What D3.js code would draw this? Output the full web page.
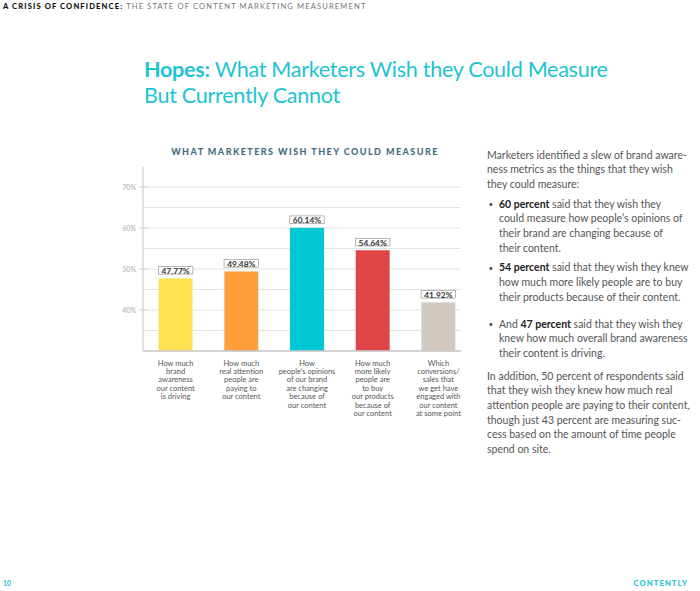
<!DOCTYPE html>
<html>
<head>
<meta charset="utf-8">
<script src="https://cdn.jsdelivr.net/npm/d3@7"></script>
<style>
  html, body { margin: 0; padding: 0; background: #fff; }
  svg { display: block; }
</style>
</head>
<body>
<div id="chart"></div>
<script>
// ---- data ----
const categories = [
  ["How much", "brand", "awareness", "our content", "is driving"],
  ["How much", "real attention", "people are", "paying to", "our content"],
  ["How", "people\u2019s  opinions", "of our brand", "are changing", "because of", "our content"],
  ["How much", "more likely", "people are", "to buy", "our products", "because of", "our content"],
  ["Which", "conversions/", "sales that", "we get have", "engaged with", "our content", "at some point"]
];
const values = [47.77, 49.48, 60.14, 54.64, 41.92];
const valueLabels = ["47.77%", "49.48%", "60.14%", "54.64%", "41.92%"];
const barColors = ["#ffe04e", "#ff9e3b", "#00c6d6", "#e04545", "#d1c8bf"];
const gridValues = [35, 40, 45, 50, 55, 60, 65, 70];
const tickValues = [40, 50, 60, 70];
const tickLabels = ["40%", "50%", "60%", "70%"];

const W = 700, H = 591;
const svg = d3.select("#chart").append("svg").attr("width", W).attr("height", H);
svg.append("rect").attr("width", W).attr("height", H).attr("fill", "#fff");

const cyan = "#1ec3d3";
const sans = "Lato, 'Open Sans', sans-serif";

// ---- header ----
const hdr = svg.append("text").attr("x", 3).attr("y", 9)
  .attr("font-family", sans).attr("font-size", 7.6).attr("letter-spacing", 1.12);
hdr.append("tspan").attr("font-weight", 900).attr("fill", "#111").text("A CRISIS OF CONFIDENCE:");
hdr.append("tspan").attr("fill", "#777").text(" THE STATE OF CONTENT MARKETING MEASUREMENT");

// ---- main title ----
const t1 = svg.append("text").attr("x", 144).attr("y", 77)
  .attr("font-family", sans).attr("font-size", 21.6).attr("letter-spacing", -0.3).attr("fill", cyan);
t1.append("tspan").attr("font-weight", 700).text("Hopes:");
t1.append("tspan").text(" What Marketers Wish they Could Measure");
svg.append("text").attr("x", 144).attr("y", 102.5)
  .attr("font-family", sans).attr("font-size", 21.6).attr("letter-spacing", -0.3).attr("fill", cyan)
  .text("But Currently Cannot");

// ---- chart title ----
svg.append("text").attr("x", 305).attr("y", 155).attr("text-anchor", "middle")
  .attr("font-family", sans).attr("font-weight", 900).attr("font-size", 9)
  .attr("letter-spacing", 1.45).attr("fill", "#3f6d82")
  .text("WHAT MARKETERS WISH THEY COULD MEASURE");

// ---- scales ----
const y = d3.scaleLinear().domain([30, 75]).range([351, 166.5]);
const x = d3.scaleBand().domain(d3.range(values.length))
  .range([125.5, 488.5]).paddingInner(0.475).paddingOuter(0.5);
const axisX = 143, gridRight = 461;

const g = svg.append("g");

// gridlines
g.selectAll("line.grid").data(gridValues).join("line").attr("class", "grid")
  .attr("x1", axisX).attr("x2", gridRight)
  .attr("y1", d => y(d)).attr("y2", d => y(d))
  .attr("stroke", "#e2e2e2").attr("stroke-width", 1);

// y axis line
g.append("line").attr("x1", axisX).attr("x2", axisX).attr("y1", y(75)).attr("y2", y(30))
  .attr("stroke", "#d8d8d8").attr("stroke-width", 1.5);

// tick marks + labels
g.selectAll("line.tick").data(tickValues).join("line").attr("class", "tick")
  .attr("x1", axisX - 4).attr("x2", axisX + 4)
  .attr("y1", d => y(d)).attr("y2", d => y(d))
  .attr("stroke", "#cfcfcf").attr("stroke-width", 1);
g.selectAll("text.tick").data(tickValues).join("text").attr("class", "tick")
  .attr("x", axisX - 7).attr("y", d => y(d) + 2.5).attr("text-anchor", "end")
  .attr("font-family", sans).attr("font-size", 7).attr("font-weight", 700).attr("fill", "#bbb")
  .text((d, i) => tickLabels[i]);

// bars
g.selectAll("rect.bar").data(values).join("rect").attr("class", "bar")
  .attr("x", (d, i) => x(i)).attr("width", x.bandwidth())
  .attr("y", d => y(d)).attr("height", d => y(30) - y(d))
  .attr("fill", (d, i) => barColors[i])
  .attr("stroke", "#f4f4f4").attr("stroke-width", 0.6);

// baseline
g.append("line").attr("x1", axisX).attr("x2", gridRight).attr("y1", y(30)).attr("y2", y(30))
  .attr("stroke", "#c4c4c4").attr("stroke-width", 1.5);

// value boxes
g.selectAll("rect.vbox").data(values).join("rect").attr("class", "vbox")
  .attr("x", (d, i) => x(i)).attr("width", x.bandwidth())
  .attr("y", d => y(d) - 11.5).attr("height", 7.5)
  .attr("fill", "#fff").attr("stroke", "#9a9a9a").attr("stroke-width", 0.7);
g.selectAll("text.vlab").data(values).join("text").attr("class", "vlab")
  .attr("x", (d, i) => x(i) + x.bandwidth() / 2).attr("y", d => y(d) - 4.4)
  .attr("text-anchor", "middle")
  .attr("font-family", sans).attr("font-weight", 700).attr("font-size", 8.4).attr("fill", "#333")
  .text((d, i) => valueLabels[i]);

// category labels
const cl = g.selectAll("text.cat").data(categories).join("text").attr("class", "cat")
  .attr("x", (d, i) => x(i) + x.bandwidth() / 2).attr("y", 365.5)
  .attr("text-anchor", "middle").attr("font-family", sans)
  .attr("font-size", 7.5).attr("fill", "#555");
cl.selectAll("tspan").data(d => d).join("tspan")
  .attr("x", function () { return d3.select(this.parentNode).attr("x"); })
  .attr("dy", (d, i) => i === 0 ? 0 : 8.4)
  .text(d => d);

// ---- right-hand text ----
const para = [
  { y: 158.5, parts: [["Marketers identified a slew of brand aware-"]] },
  { y: 173.2, parts: [["ness metrics as the things that they wish"]] },
  { y: 187.9, parts: [["they could measure:"]] },
  { y: 207.5, bullet: true, parts: [["60 percent", 1], [" said that they wish they"]] },
  { y: 222.2, indent: true, parts: [["could measure how people\u2019s opinions of"]] },
  { y: 236.9, indent: true, parts: [["their brand are changing because of"]] },
  { y: 251.6, indent: true, parts: [["their content."]] },
  { y: 271.2, bullet: true, parts: [["54 percent", 1], [" said that they wish they knew"]] },
  { y: 285.9, indent: true, parts: [["how much more likely people are to buy"]] },
  { y: 300.6, indent: true, parts: [["their products because of their content."]] },
  { y: 327.5, bullet: true, parts: [["And "], ["47 percent", 1], [" said that they wish they"]] },
  { y: 342.2, indent: true, parts: [["knew how much overall brand awareness"]] },
  { y: 356.9, indent: true, parts: [["their content is driving."]] },
  { y: 379.5, parts: [["In addition, 50 percent of respondents said"]] },
  { y: 394.2, parts: [["that they wish they knew how much real"]] },
  { y: 408.9, parts: [["attention people are paying to their content,"]] },
  { y: 423.6, parts: [["though just 43 percent are measuring suc-"]] },
  { y: 438.3, parts: [["cess based on the amount of time people"]] },
  { y: 453.0, parts: [["spend on site."]] }
];
const tx = 487, tIndent = 499;
const rt = svg.append("g").attr("font-family", sans).attr("font-size", 10.5).attr("fill", "#555");
para.forEach(line => {
  if (line.bullet) {
    rt.append("text").attr("x", tx + 1.5).attr("y", line.y - 0.5).attr("font-size", 8).attr("fill", "#444").text("\u2022");
  }
  const t = rt.append("text").attr("x", (line.bullet || line.indent) ? tIndent : tx).attr("y", line.y);
  line.parts.forEach(p => {
    const ts = t.append("tspan").text(p[0]);
    if (p[1]) ts.attr("font-weight", 700).attr("fill", "#222");
  });
});

// ---- footer ----
svg.append("text").attr("x", 3).attr("y", 586).attr("font-family", sans)
  .attr("font-weight", 700).attr("font-size", 7).attr("fill", cyan).text("10");
svg.append("text").attr("x", 688).attr("y", 586).attr("text-anchor", "end").attr("font-family", sans)
  .attr("font-weight", 900).attr("font-size", 7.6).attr("letter-spacing", 1.1).attr("fill", cyan).text("CONTENTLY");
</script>
</body>
</html>
